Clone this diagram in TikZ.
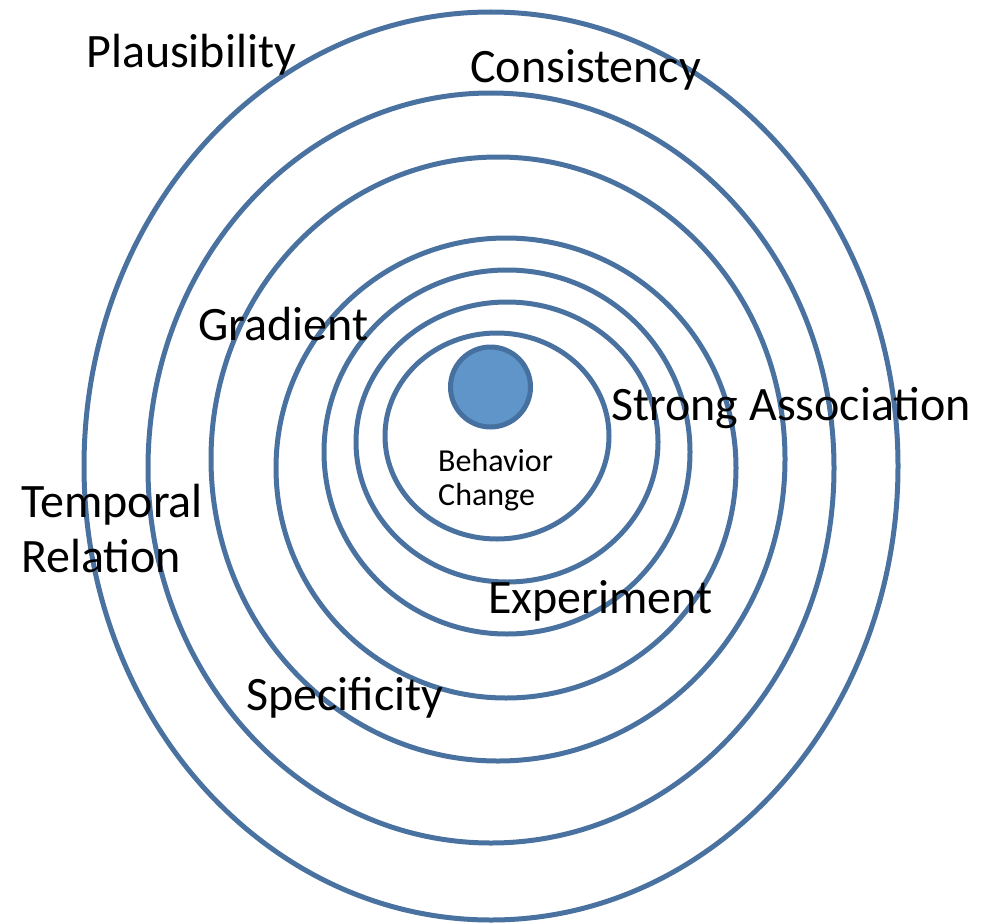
\documentclass[tikz,border=0pt]{standalone}
\usepackage{fontspec}
\setmainfont{Carlito}
\definecolor{ringblue}{HTML}{4A72A0}
\definecolor{corefill}{HTML}{5F95C8}
\definecolor{coreline}{HTML}{46709F}
\tikzset{
  ring/.style={draw=ringblue, line width=5pt},
  core/.style={circle, fill=corefill, draw=coreline, line width=5pt, minimum size=80pt, inner sep=0pt},
  biglabel/.style={anchor=base west, inner sep=0pt, font=\fontsize{48}{55}\selectfont},
  smalllabel/.style={anchor=base west, inner sep=0pt, font=\fontsize{32}{34}\selectfont}
}
\begin{document}
\begin{tikzpicture}[x=1pt,y=-1pt]
  \useasboundingbox (0,0) rectangle (992,923);
  % concentric rings, innermost first
  \draw[ring] (497,436) ellipse [x radius=112, y radius=103];
  \draw[ring] (507,442) ellipse [x radius=151, y radius=140];
  \draw[ring] (507,452) ellipse [x radius=183, y radius=182];
  \draw[ring] (506,468) ellipse [x radius=230, y radius=230];
  \draw[ring] (498,459) ellipse [x radius=287, y radius=302];
  \draw[ring] (491,468) ellipse [x radius=343, y radius=375];
  \draw[ring] (491,466) ellipse [x radius=407, y radius=454];
  % central filled disc
  \node[core] (core) at (490.5,387) {};
  % labels
  \node[smalllabel] (behav) at (438,471) {Behavior};
  \node[smalllabel] (change) at (438,505) {Change};
  \node[biglabel] (plaus) at (86,68) {Plausibility};
  \node[biglabel] (consist) at (470,83) {Consistency};
  \node[biglabel] (grad) at (198,340) {Gradient};
  \node[biglabel] (strong) at (611,420) {Strong Association};
  \node[biglabel] (temp) at (21,517) {Temporal};
  \node[biglabel] (rel) at (21,572) {Relation};
  \node[biglabel] (exper) at (488,613) {Experiment};
  \node[biglabel] (spec) at (246,710) {Specificity};
\end{tikzpicture}
\end{document}
